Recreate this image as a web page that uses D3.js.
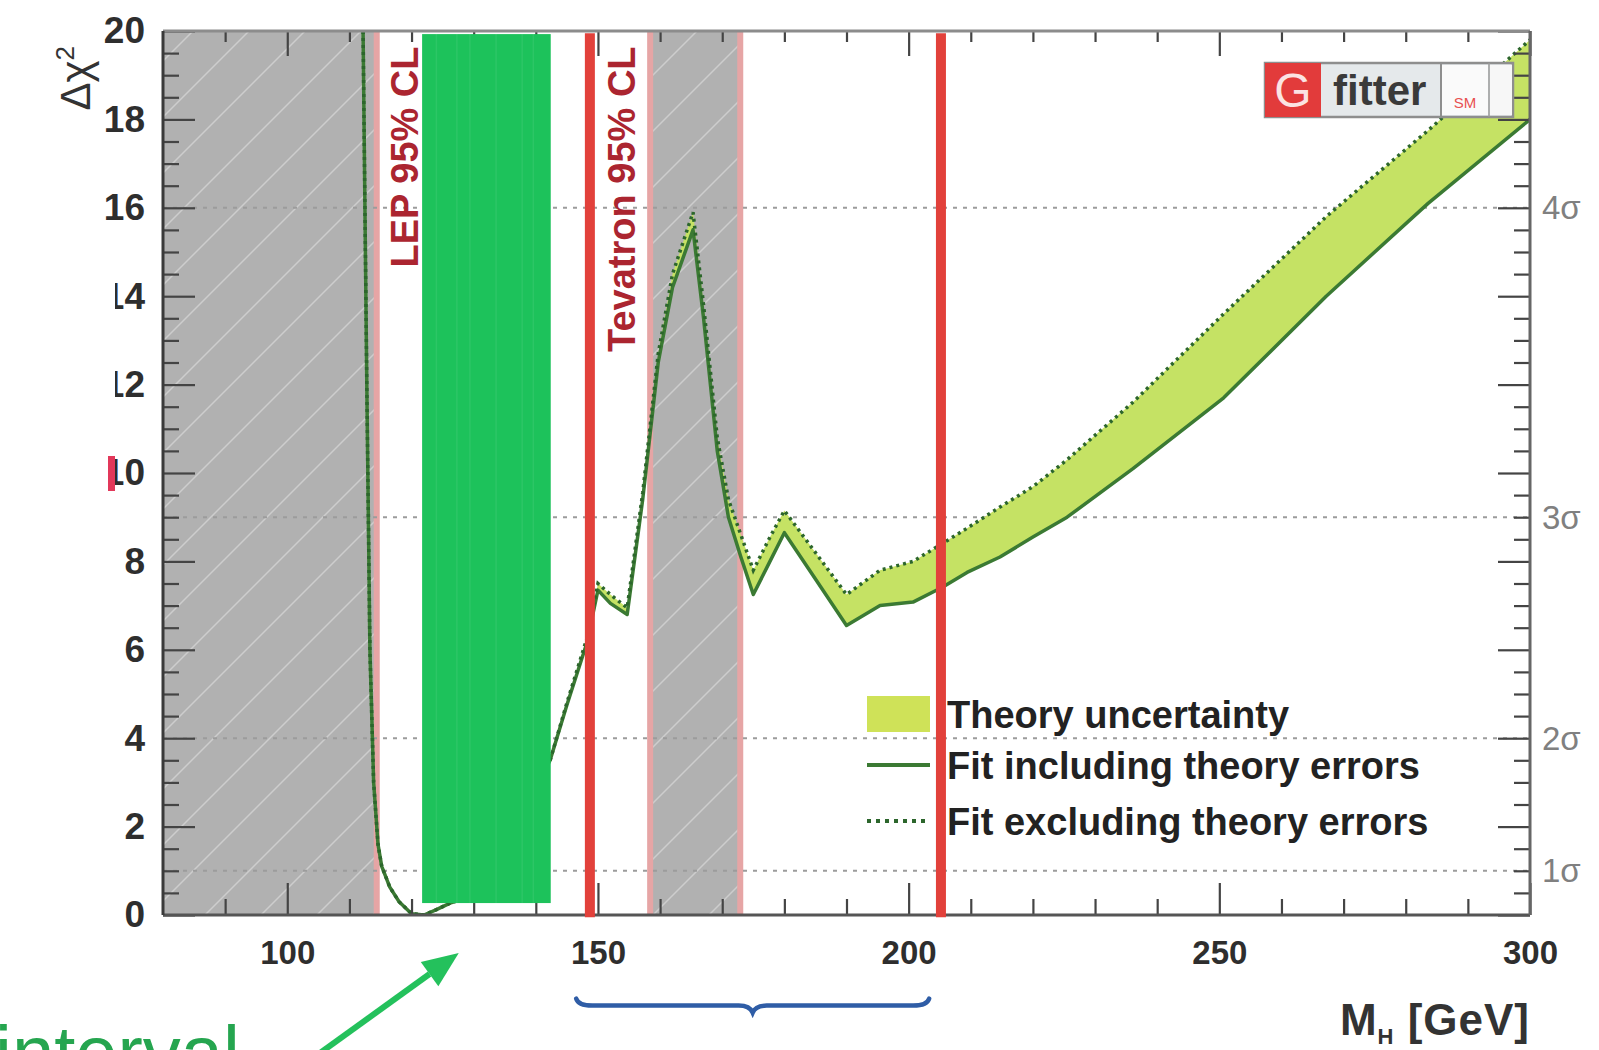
<!DOCTYPE html>
<html>
<head>
<meta charset="utf-8">
<script src="https://cdn.jsdelivr.net/npm/d3@7"></script>
<style>
  html, body { margin: 0; padding: 0; background: #fff; }
  svg { display: block; }
</style>
</head>
<body>
<svg id="chart" width="1599" height="1050"></svg>
<script>
// Electroweak fit: Δχ² versus Higgs mass, with and without theory errors

// Higgs mass scan points (GeV)
const massGeV = [112.2, 112.8, 113.3, 113.9, 114.6, 115.2, 116.5, 118, 120, 122, 124, 126.2, 128, 130, 133, 136, 139, 142.3, 145, 148.2, 150, 152, 154.7, 157.2, 159.7, 162, 165.3, 167, 169.2, 171, 173, 175, 177.5, 180, 185, 190, 195.4, 200.7, 205.5, 209.4, 214.7, 220, 225.5, 236.1, 250.7, 267.2, 283.6, 300];
// Δχ² of the fit including theory errors (solid line)
const fitWithTheory = [20, 12, 6, 3, 1.6, 1.1, 0.63, 0.3, 0.03, 0.0, 0.12, 0.27, 0.35, 0.55, 1.0, 1.7, 2.6, 3.5, 4.75, 6.15, 7.35, 7.05, 6.8, 9.4, 12.5, 14.2, 15.5, 13.5, 10.5, 9.0, 8.1, 7.25, 7.95, 8.65, 7.6, 6.55, 7.0, 7.08, 7.42, 7.75, 8.1, 8.55, 9.0, 10.1, 11.7, 14.0, 16.1, 18.0];
// Δχ² of the fit excluding theory errors (dotted line)
const fitWithoutTheory = [20, 12, 6, 3, 1.6, 1.1, 0.63, 0.3, 0.03, 0.0, 0.12, 0.27, 0.35, 0.55, 1.0, 1.7, 2.6, 3.5, 4.8, 6.25, 7.5, 7.25, 6.95, 9.55, 12.7, 14.5, 15.9, 13.8, 10.8, 9.4, 8.6, 7.8, 8.5, 9.15, 8.2, 7.25, 7.8, 8.0, 8.41, 8.75, 9.23, 9.69, 10.3, 11.6, 13.6, 15.8, 17.75, 19.8];

// Axes
const xMajorTicks = [100, 150, 200, 250, 300];
const xMinorTicks = [90, 110, 120, 130, 140, 160, 170, 180, 190, 210, 220, 230, 240, 260, 270, 280, 290];
const yMajorTicks = [0, 2, 4, 6, 8, 10, 12, 14, 16, 18, 20];
const yMinorTicks = [0.5, 1, 1.5, 2.5, 3, 3.5, 4.5, 5, 5.5, 6.5, 7, 7.5, 8.5, 9, 9.5, 10.5, 11, 11.5, 12.5, 13, 13.5, 14.5, 15, 15.5, 16.5, 17, 17.5, 18.5, 19, 19.5];
const sigmaLevels = [1, 4, 9, 16];
const sigmaLabels = ["1σ", "2σ", "3σ", "4σ"];

// Direct search exclusions (GeV)
const lepExclusion = [80, 114.4];
const tevatronExclusion = [158.4, 172.9];

// Highlighted mass interval, marker lines and brace (GeV)
const highlightMass = [121.7, 142.4];
const highlightChi2 = [0.27, 19.93];
const markerMasses = [148.7, 205.2];
const braceMass = [146.5, 203.3];

const legendLabels = ["Theory uncertainty", "Fit including theory errors", "Fit excluding theory errors"];

const FONT = "'Liberation Sans', Arial, Helvetica, sans-serif";
const plot = { left: 163, right: 1530, top: 31, bottom: 915 };

const x = d3.scaleLinear().domain([80, 300]).range([plot.left, plot.right]);
const y = d3.scaleLinear().domain([0, 20]).range([plot.bottom, plot.top]);

const svg = d3.select("#chart");
const defs = svg.append("defs");

defs.append("clipPath").attr("id", "plotClip")
  .append("rect")
  .attr("x", plot.left).attr("y", plot.top)
  .attr("width", plot.right - plot.left).attr("height", plot.bottom - plot.top);

// diagonal hatch for excluded regions
const hatch = defs.append("pattern")
  .attr("id", "hatch").attr("patternUnits", "userSpaceOnUse")
  .attr("width", 56).attr("height", 56);
hatch.append("rect").attr("width", 56).attr("height", 56).attr("fill", "#b1b1b1");
hatch.append("path")
  .attr("d", "M-14,14 L14,-14 M0,56 L56,0 M42,70 L70,42")
  .attr("stroke", "#cdcdcd").attr("stroke-width", 1.5);

const plotArea = svg.append("g").attr("clip-path", "url(#plotClip)");

// excluded regions
const exclusions = [lepExclusion, tevatronExclusion];
plotArea.selectAll("rect.excl").data(exclusions).join("rect")
  .attr("class", "excl")
  .attr("x", d => x(d[0])).attr("width", d => x(d[1]) - x(d[0]))
  .attr("y", plot.top).attr("height", plot.bottom - plot.top)
  .attr("fill", "url(#hatch)");

const edgeMasses = [lepExclusion[1], tevatronExclusion[0], tevatronExclusion[1]];
plotArea.selectAll("line.edge").data(edgeMasses).join("line")
  .attr("class", "edge")
  .attr("x1", d => x(d)).attr("x2", d => x(d))
  .attr("y1", plot.top).attr("y2", plot.bottom)
  .attr("stroke", "#e6a5a5").attr("stroke-width", 6);

// sigma reference lines
plotArea.selectAll("line.sigma").data(sigmaLevels).join("line")
  .attr("class", "sigma")
  .attr("x1", plot.left).attr("x2", plot.right)
  .attr("y1", d => y(d)).attr("y2", d => y(d))
  .attr("stroke", "#9c9c9c").attr("stroke-width", 2)
  .attr("stroke-dasharray", "4,6");

// exclusion labels
const exclLabels = [
  { text: "LEP 95% CL", mass: 118.9 },
  { text: "Tevatron 95% CL", mass: 153.9 }
];
svg.selectAll("text.excl").data(exclLabels).join("text")
  .attr("class", "excl")
  .attr("transform", d => `translate(${x(d.mass)},${y(19.65)}) rotate(-90)`)
  .attr("text-anchor", "end")
  .attr("dominant-baseline", "central")
  .attr("font-family", FONT).attr("font-weight", "bold").attr("font-size", 38)
  .attr("fill", "#ab2530")
  .text(d => d.text);

// theory uncertainty band and fit curves
const pts = massGeV.map((m, i) => ({ m, a: fitWithTheory[i], b: fitWithoutTheory[i] }));

plotArea.append("path").datum(pts)
  .attr("d", d3.area().x(d => x(d.m)).y0(d => y(d.a)).y1(d => y(d.b)))
  .attr("fill", "#c5e264").attr("stroke", "none");

plotArea.append("path").datum(pts)
  .attr("d", d3.line().x(d => x(d.m)).y(d => y(d.a)))
  .attr("fill", "none").attr("stroke", "#3b7a33").attr("stroke-width", 3.5)
  .attr("stroke-linejoin", "round");

plotArea.append("path").datum(pts)
  .attr("d", d3.line().x(d => x(d.m)).y(d => y(d.b)))
  .attr("fill", "none").attr("stroke", "#2c662c").attr("stroke-width", 3.5)
  .attr("stroke-dasharray", "3,4");

// axes with inward ticks
function styleAxis(g) {
  g.select(".domain").remove();
  g.selectAll(".tick line").attr("stroke", "#444").attr("stroke-width", 2.2);
  g.selectAll(".tick text").attr("font-family", FONT).attr("font-weight", "bold")
    .attr("fill", "#2e2e2e");
}

svg.append("g").attr("transform", `translate(0,${plot.bottom})`)
  .call(d3.axisBottom(x).tickValues(xMajorTicks).tickSizeInner(-32).tickSizeOuter(0).tickPadding(26).tickFormat(d3.format("d")))
  .call(styleAxis)
  .call(g => g.selectAll(".tick text").attr("font-size", 33));
svg.append("g").attr("transform", `translate(0,${plot.bottom})`)
  .call(d3.axisBottom(x).tickValues(xMinorTicks).tickSizeInner(-16).tickSizeOuter(0).tickFormat(""))
  .call(styleAxis);

svg.append("g").attr("transform", `translate(0,${plot.top})`)
  .call(d3.axisTop(x).tickValues(xMajorTicks).tickSizeInner(-25).tickSizeOuter(0).tickFormat(""))
  .call(styleAxis);
svg.append("g").attr("transform", `translate(0,${plot.top})`)
  .call(d3.axisTop(x).tickValues(xMinorTicks).tickSizeInner(-11).tickSizeOuter(0).tickFormat(""))
  .call(styleAxis);

svg.append("g").attr("transform", `translate(${plot.left},0)`)
  .call(d3.axisLeft(y).tickValues(yMajorTicks).tickSizeInner(-32).tickSizeOuter(0).tickPadding(18).tickFormat(d3.format("d")))
  .call(styleAxis)
  .call(g => g.selectAll(".tick text").attr("font-size", 37));
svg.append("g").attr("transform", `translate(${plot.left},0)`)
  .call(d3.axisLeft(y).tickValues(yMinorTicks).tickSizeInner(-16).tickSizeOuter(0).tickFormat(""))
  .call(styleAxis);

svg.append("g").attr("transform", `translate(${plot.right},0)`)
  .call(d3.axisRight(y).tickValues(yMajorTicks).tickSizeInner(-32).tickSizeOuter(0).tickFormat(""))
  .call(styleAxis);
svg.append("g").attr("transform", `translate(${plot.right},0)`)
  .call(d3.axisRight(y).tickValues(yMinorTicks).tickSizeInner(-16).tickSizeOuter(0).tickFormat(""))
  .call(styleAxis);

// frame
svg.append("line").attr("x1", plot.left).attr("x2", plot.right).attr("y1", plot.top).attr("y2", plot.top)
  .attr("stroke", "#8c8c8c").attr("stroke-width", 3);
svg.append("line").attr("x1", plot.left).attr("x2", plot.right).attr("y1", plot.bottom).attr("y2", plot.bottom)
  .attr("stroke", "#555").attr("stroke-width", 3);
svg.append("line").attr("x1", plot.left).attr("x2", plot.left).attr("y1", plot.top).attr("y2", plot.bottom)
  .attr("stroke", "#3a3a3a").attr("stroke-width", 3);
svg.append("line").attr("x1", plot.right).attr("x2", plot.right).attr("y1", plot.top).attr("y2", plot.bottom)
  .attr("stroke", "#666").attr("stroke-width", 3);

// sigma labels on the right
svg.selectAll("text.sig").data(sigmaLevels).join("text")
  .attr("class", "sig")
  .attr("x", plot.right + 12).attr("y", d => y(d))
  .attr("dy", "0.35em")
  .attr("font-family", FONT).attr("font-size", 33).attr("fill", "#808080")
  .text((d, i) => sigmaLabels[i]);

// axis titles
const yTitle = svg.append("text")
  .attr("transform", "translate(90,46) rotate(-90)")
  .attr("text-anchor", "end")
  .attr("font-family", FONT).attr("font-size", 42).attr("fill", "#333");
yTitle.append("tspan").text("Δχ");
yTitle.append("tspan").attr("dy", -16).attr("font-size", 26).text("2");

const xTitle = svg.append("text")
  .attr("x", plot.right).attr("y", 1035)
  .attr("text-anchor", "end")
  .attr("font-family", FONT).attr("font-weight", "bold").attr("font-size", 44)
  .attr("letter-spacing", 1).attr("fill", "#333");
xTitle.append("tspan").text("M");
xTitle.append("tspan").attr("dy", 9).attr("font-size", 22).text("H");
xTitle.append("tspan").attr("dy", -9).text(" [GeV]");

// legend
const legend = svg.append("g").attr("transform", "translate(867,0)");
const legendRows = [714, 765, 821];
legend.append("rect").attr("x", 0).attr("y", legendRows[0] - 18).attr("width", 63).attr("height", 36)
  .attr("fill", "#cfe258");
legend.append("line").attr("x1", 0).attr("x2", 63).attr("y1", legendRows[1]).attr("y2", legendRows[1])
  .attr("stroke", "#3b7a33").attr("stroke-width", 4);
legend.append("line").attr("x1", 0).attr("x2", 63).attr("y1", legendRows[2]).attr("y2", legendRows[2])
  .attr("stroke", "#2c662c").attr("stroke-width", 4).attr("stroke-dasharray", "4,5");
legend.selectAll("text").data(legendLabels).join("text")
  .attr("x", 80).attr("y", (d, i) => legendRows[i])
  .attr("dy", "0.36em")
  .attr("font-family", FONT).attr("font-weight", "bold").attr("font-size", 38).attr("fill", "#222")
  .text(d => d);

// Gfitter logo
const logo = svg.append("g").attr("transform", "translate(1265,63)");
logo.append("rect").attr("x", 0).attr("y", 0).attr("width", 248).attr("height", 54)
  .attr("fill", "#e5e9eb").attr("stroke", "#8e8e8e").attr("stroke-width", 2.5);
logo.append("rect").attr("x", 0).attr("y", 0).attr("width", 56).attr("height", 54).attr("fill", "#e23b3b");
logo.append("text").attr("x", 28).attr("y", 44).attr("text-anchor", "middle")
  .attr("font-family", FONT).attr("font-size", 48).attr("fill", "#fbe3e3").text("G");
logo.append("text").attr("x", 68).attr("y", 42)
  .attr("font-family", FONT).attr("font-weight", "bold").attr("font-size", 42).attr("fill", "#3a3a3a").text("fitter");
logo.append("line").attr("x1", 176).attr("x2", 176).attr("y1", 0).attr("y2", 54).attr("stroke", "#8e8e8e").attr("stroke-width", 2);
logo.append("rect").attr("x", 177).attr("y", 2).attr("width", 46).attr("height", 50).attr("fill", "#fafafa");
logo.append("text").attr("x", 200).attr("y", 45).attr("text-anchor", "middle")
  .attr("font-family", FONT).attr("font-size", 15).attr("fill", "#e85050").text("SM");
logo.append("line").attr("x1", 224).attr("x2", 224).attr("y1", 0).attr("y2", 54).attr("stroke", "#9a9a9a").attr("stroke-width", 1.5);
logo.append("rect").attr("x", 225).attr("y", 2).attr("width", 22).attr("height", 50).attr("fill", "#f7f7f7");

// highlighted interval
svg.append("rect")
  .attr("x", x(highlightMass[0])).attr("width", x(highlightMass[1]) - x(highlightMass[0]))
  .attr("y", y(highlightChi2[1])).attr("height", y(highlightChi2[0]) - y(highlightChi2[1]))
  .attr("fill", "#1dc25b");
const stripeMasses = [124.0, 127.3, 129.4, 133.6, 137.8, 139.6];
svg.selectAll("line.stripe").data(stripeMasses).join("line")
  .attr("class", "stripe")
  .attr("x1", d => x(d)).attr("x2", d => x(d))
  .attr("y1", y(highlightChi2[1])).attr("y2", y(highlightChi2[0]))
  .attr("stroke", "#ffffff").attr("stroke-opacity", 0.07).attr("stroke-width", 1.5);

// marker lines
svg.selectAll("line.marker").data(markerMasses).join("line")
  .attr("class", "marker")
  .attr("x1", d => x(d)).attr("x2", d => x(d))
  .attr("y1", y(19.95)).attr("y2", y(-0.05))
  .attr("stroke", "#e2413b").attr("stroke-width", 10);

// brace below the axis
{
  const x0 = x(braceMass[0]), x1 = x(braceMass[1]), xm = (x0 + x1) / 2, yb = y(-2.05);
  const d = `M${x0},${yb - 7} Q${x0 + 2},${yb} ${x0 + 16},${yb} L${xm - 14},${yb} Q${xm - 3},${yb} ${xm},${yb + 7}` +
            ` Q${xm + 3},${yb} ${xm + 14},${yb} L${x1 - 16},${yb} Q${x1 - 2},${yb} ${x1},${yb - 7}`;
  svg.append("path").attr("d", d).attr("fill", "none").attr("stroke", "#2f5da6").attr("stroke-width", 4.5)
    .attr("stroke-linecap", "round");
}

// arrow pointing to the interval
{
  const tip = [x(127.6), y(-0.86)], tail = [x(104.5), y(-3.2)];
  const ang = Math.atan2(tip[1] - tail[1], tip[0] - tail[0]);
  const len = 36, half = 15;
  const base = [tip[0] - len * Math.cos(ang), tip[1] - len * Math.sin(ang)];
  svg.append("line").attr("x1", tail[0]).attr("y1", tail[1]).attr("x2", base[0]).attr("y2", base[1])
    .attr("stroke", "#24c15c").attr("stroke-width", 6);
  const p1 = [base[0] + half * Math.sin(ang), base[1] - half * Math.cos(ang)];
  const p2 = [base[0] - half * Math.sin(ang), base[1] + half * Math.cos(ang)];
  svg.append("path").attr("d", `M${tip[0]},${tip[1]} L${p1[0]},${p1[1]} L${p2[0]},${p2[1]} Z`).attr("fill", "#24c15c");
}

svg.append("text").attr("x", -5).attr("y", 1079)
  .attr("font-family", FONT).attr("font-size", 76).attr("fill", "#25a54f").text("interval");

// overlapping slide element at the left edge
svg.append("rect").attr("x", 0).attr("y", 227).attr("width", 115).attr("height", 400).attr("fill", "#fff");
svg.append("rect").attr("x", 108).attr("y", 456).attr("width", 7).attr("height", 35).attr("fill", "#e2385a");
</script>
</body>
</html>
